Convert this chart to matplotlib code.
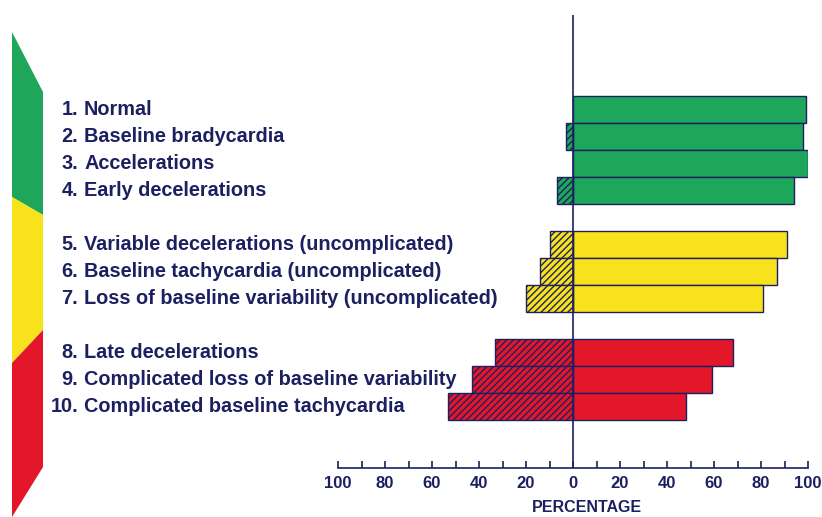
import matplotlib
matplotlib.use("Agg")
import matplotlib.pyplot as plt
from matplotlib.patches import Polygon
from matplotlib import font_manager
from matplotlib.transforms import blended_transform_factory

numbers = ["1.", "2.", "3.", "4.", "5.", "6.", "7.", "8.", "9.", "10."]
categories = ["Normal", "Baseline bradycardia", "Accelerations", "Early decelerations",
              "Variable decelerations (uncomplicated)", "Baseline tachycardia (uncomplicated)",
              "Loss of baseline variability (uncomplicated)",
              "Late decelerations", "Complicated loss of baseline variability",
              "Complicated baseline tachycardia"]
right_values = [99, 98, 100, 94, 91, 87, 81, 68, 59, 48]
left_values = [0, 3, 0, 7, 10, 14, 20, 33, 43, 53]
groups = [0, 0, 0, 0, 1, 1, 1, 2, 2, 2]
tick_values = [-100, -80, -60, -40, -20, 0, 20, 40, 60, 80, 100]
tick_labels = ["100", "80", "60", "40", "20", "0", "20", "40", "60", "80", "100"]

colors = ["#1ea65a", "#f8e21c", "#e3162a"]
navy = "#1d2060"

avail = {f.name for f in font_manager.fontManager.ttflist}
fam = "Liberation Sans Narrow" if "Liberation Sans Narrow" in avail else "Liberation Sans"
plt.rcParams['font.family'] = [fam, 'DejaVu Sans']
plt.rcParams['hatch.color'] = navy
plt.rcParams['hatch.linewidth'] = 1.0

W, H = 822, 517
fig = plt.figure(figsize=(W / 100, H / 100), dpi=100)
fig.patch.set_facecolor("white")

ax = fig.add_axes([338 / W, 1 - 468 / H, (808 - 338) / W, (468 - 15) / H])
positions = [i + g for i, g in enumerate(groups)]

for p, r, l, g in zip(positions, right_values, left_values, groups):
    c = colors[g]
    ax.barh(p, r, height=1.0, left=0, color=c, edgecolor=navy, linewidth=1.0)
    if l > 0:
        ax.barh(p, -l, height=1.0, left=0, color=c, edgecolor=navy, linewidth=1.0, hatch="/////")

ax.set_xlim(-100, 100)
y0 = positions[0] - 0.5 - (96 - 15) / 27.0
y1 = positions[0] - 0.5 + (468 - 96) / 27.0
ax.set_ylim(y1, y0)
ax.axvline(0, color=navy, lw=1.2)

for s in ["left", "right", "top"]:
    ax.spines[s].set_visible(False)
ax.spines["bottom"].set_color(navy)
ax.spines["bottom"].set_linewidth(1.2)
ax.set_yticks([])
ax.set_xticks(tick_values)
ax.set_xticklabels(tick_labels, fontsize=12, fontweight="bold", color=navy)
ax.set_xticks(range(-90, 100, 20), minor=True)
ax.tick_params(axis="x", which="both", direction="in", length=5, width=1.2, color=navy, pad=6)
ax.patch.set_alpha(0)

ax.text(6, y1 + 1.45, "PERCENTAGE", ha="center", va="center", fontsize=11.5,
        fontweight="bold", color=navy, clip_on=False)

tr = blended_transform_factory(fig.transFigure, ax.transData)
for p, n, c in zip(positions, numbers, categories):
    ax.text(78 / W, p, n, transform=tr, ha="right", va="center", fontsize=14.3,
            fontweight="bold", color=navy)
    ax.text(84 / W, p, c, transform=tr, ha="left", va="center", fontsize=14.3,
            fontweight="bold", color=navy)

def fp(pts):
    return [(x / W, 1 - y / H) for x, y in pts]

band = [
    [(12, 32), (43, 92), (43, 215), (12, 197)],
    [(12, 197), (43, 215), (43, 330), (12, 363)],
    [(12, 363), (43, 330), (43, 467), (12, 517)],
]
for pts, c in zip(band, colors):
    fig.patches.append(Polygon(fp(pts), closed=True, transform=fig.transFigure,
                               facecolor=c, edgecolor="none"))

fig.savefig("out.png", dpi=100)
